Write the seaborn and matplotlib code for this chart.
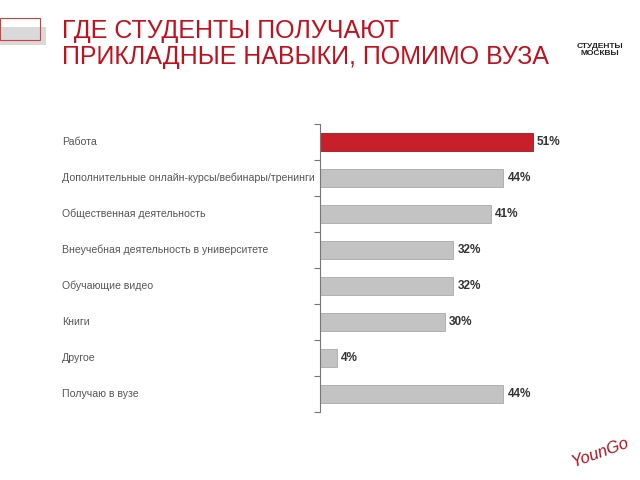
import matplotlib
matplotlib.use("Agg")
import matplotlib.pyplot as plt
import matplotlib.patches as mpatches
import seaborn as sns
import pandas as pd

# Data
categories = [
    "Работа",
    "Дополнительные онлайн-курсы/вебинары/тренинги",
    "Общественная деятельность",
    "Внеучебная деятельность в университете",
    "Обучающие видео",
    "Книги",
    "Другое",
    "Получаю в вузе",
]
values = [51, 44, 41, 32, 32, 30, 4, 44]
highlight = "Работа"

RED = "#c8202a"
GRAY = "#c3c3c3"

df = pd.DataFrame({"cat": categories, "val": values})
palette = {c: (RED if c == highlight else GRAY) for c in categories}

sns.set_style("white")
plt.rcParams['font.family'] = ['Liberation Sans', 'DejaVu Sans']

fig = plt.figure(figsize=(6.4, 4.8), dpi=100)
ax = fig.add_axes([320 / 640, 1 - 412 / 480, 250 / 640, 288 / 480])

sns.barplot(data=df, x="val", y="cat", hue="cat", palette=palette,
            order=categories, legend=False, width=0.5, saturation=1, ax=ax,
            edgecolor="#a8a8a8", linewidth=0.6)
for p in ax.patches:
    if p.get_facecolor()[:3] == matplotlib.colors.to_rgb(RED):
        p.set_edgecolor("#9a1a20")

ax.set_xlim(0, 60)
ax.set_ylim(len(categories) - 0.5, -0.5)
ax.set_xlabel("")
ax.set_ylabel("")
ax.set_xticks([])
for s in ["top", "right", "bottom"]:
    ax.spines[s].set_visible(False)
ax.spines["left"].set_color("#777777")
ax.spines["left"].set_linewidth(0.8)

# ticks sit on the category boundaries, labels go far left
ax.set_yticks([i - 0.5 for i in range(len(categories) + 1)])
ax.set_yticklabels([])
ax.tick_params(axis="y", length=4, width=0.8, color="#777777", direction="out", left=True)

label_x = -258 / 250 * 60
for i, (c, v) in enumerate(zip(categories, values)):
    ax.text(label_x, i, c, fontsize=7.6, color="#555555", va="center", ha="left",
            clip_on=False)
    ax.text(v + 1, i, f"{v}%", fontsize=8.5, fontweight="bold", color="#333333",
            va="center", ha="left")

# Title
fig.text(62 / 640, 1 - 44 / 480, "ГДЕ СТУДЕНТЫ ПОЛУЧАЮТ\nПРИКЛАДНЫЕ НАВЫКИ, ПОМИМО ВУЗА",
         fontsize=18, color="#c0111f", va="center", ha="left", linespacing=1.15)

# corner decoration
fig.patches.append(mpatches.Rectangle((0, 1 - 45 / 480), 46 / 640, 18 / 480,
                                      transform=fig.transFigure, facecolor="#d9d9d9",
                                      edgecolor="none"))
fig.patches.append(mpatches.Rectangle((0, 1 - 40 / 480), 40 / 640, 22 / 480,
                                      transform=fig.transFigure, facecolor="none",
                                      edgecolor="#d04040", linewidth=0.8))

# logos as text
fig.text(600 / 640, 1 - 50 / 480, "СТУДЕНТЫ\nМОСКВЫ", fontsize=6, fontweight="bold",
         color="#222222", ha="center", va="center", linespacing=1.1)
fig.text(600 / 640, 1 - 452 / 480, "YounGo", fontsize=12, fontstyle="italic",
         color="#b0121c", ha="center", va="center", rotation=20)

fig.savefig("out.png", dpi=100)
